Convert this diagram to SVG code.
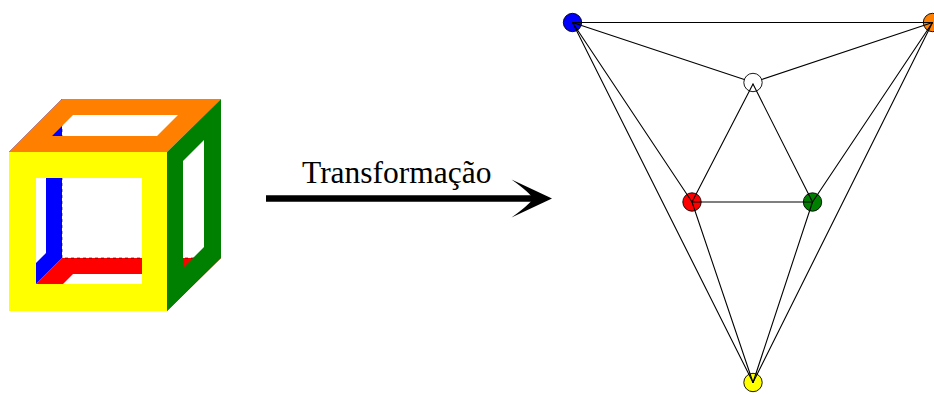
<svg xmlns="http://www.w3.org/2000/svg" width="934" height="394" viewBox="0 0 934 394">
  <style>
    .face { fill-rule: evenodd; stroke: none; }
    .hidden { fill: none; stroke: #000; stroke-width: 0.6; stroke-dasharray: 3 3; }
    .node { stroke: #000; stroke-width: 0.9; }
    .edge { stroke: #000; stroke-width: 1.1; fill: none; stroke-linecap: round; }
    .label { font-family: "Liberation Serif", "Times New Roman", serif; font-size: 31.5px; fill: #000; }
  </style>

  <rect width="934" height="394" fill="#fff"/>

  <!-- Open cube: each face is a frame with a window -->
  <g id="cube">
    <!-- bottom face (seen from inside) -->
    <path id="face-bottom" class="face" fill="#ff0000"
          d="M9,311 L167,311 L221,258 L62,258 Z M52,295 L156,295 L177,274 L73,274 Z"/>
    <!-- left face (seen from inside) -->
    <path id="face-left" class="face" fill="#0000ff"
          d="M9,152 L62,99 L62,258 L9,311 Z M25,160 L46,139 L46,253 L25,274 Z"/>
    <!-- hidden back edges -->
    <path class="hidden" d="M62,99 L62,258 L221,258"/>
    <!-- top face -->
    <path id="face-top" class="face" fill="#ff8000"
          d="M9,152 L167,152 L221,99 L62,99 Z M52,136 L157,136 L178,115 L73,115 Z"/>
    <!-- right face -->
    <path id="face-right" class="face" fill="#008000" stroke="#2ccf2c" stroke-width="0.6"
          d="M167,152 L221,99 L221,258 L167,311 Z M183,161 L204,140 L204,247 L183,268 Z"/>
    <!-- front face -->
    <path id="face-front" class="face" fill="#ffff00"
          d="M9,152 L167,152 L167,311 L9,311 Z M36,178 L142,178 L142,284 L36,284 Z"/>
  </g>

  <!-- Transformation arrow -->
  <g id="arrow">
    <text class="label" x="302" y="183">Transformação</text>
    <line x1="266" y1="198.5" x2="536" y2="198.5" stroke="#000" stroke-width="6.5"/>
    <path d="M552,198.5 L511.5,179.5 Q529,192 533,198.5 Q529,205 511.5,217.5 Z" fill="#000"/>
  </g>

  <!-- Face adjacency graph nodes -->
  <g id="node-blue"><circle class="node" cx="572.5" cy="22.5" r="9.2" fill="#0000ff"/></g>
  <g id="node-orange"><circle class="node" cx="932.5" cy="22.5" r="9.2" fill="#ff8000"/></g>
  <g id="node-white"><circle class="node" cx="753" cy="82.5" r="9.2" fill="#ffffff"/></g>
  <g id="node-red"><circle class="node" cx="692" cy="202" r="9.2" fill="#ff0000"/></g>
  <g id="node-green"><circle class="node" cx="812.5" cy="202" r="9.2" fill="#008000"/></g>
  <g id="node-yellow"><circle class="node" cx="753" cy="382.5" r="9.2" fill="#ffff00"/></g>

  <!-- Graph edges -->
  <g id="edges" class="edge">
    <line x1="572.5" y1="22.5" x2="932.5" y2="22.5"/>
    <line x1="572.5" y1="22.5" x2="744.3" y2="79.6"/>
    <line x1="932.5" y1="22.5" x2="761.7" y2="79.5"/>
    <line x1="572.5" y1="22.5" x2="692" y2="202"/>
    <line x1="572.5" y1="22.5" x2="753" y2="382.5"/>
    <line x1="932.5" y1="22.5" x2="812.5" y2="202"/>
    <line x1="932.5" y1="22.5" x2="753" y2="382.5"/>
    <line x1="753" y1="84" x2="692" y2="202"/>
    <line x1="753" y1="84" x2="812.5" y2="202"/>
    <line x1="692" y1="202" x2="812.5" y2="202"/>
    <line x1="692" y1="202" x2="753" y2="382.5"/>
    <line x1="812.5" y1="202" x2="753" y2="382.5"/>
  </g>
</svg>
